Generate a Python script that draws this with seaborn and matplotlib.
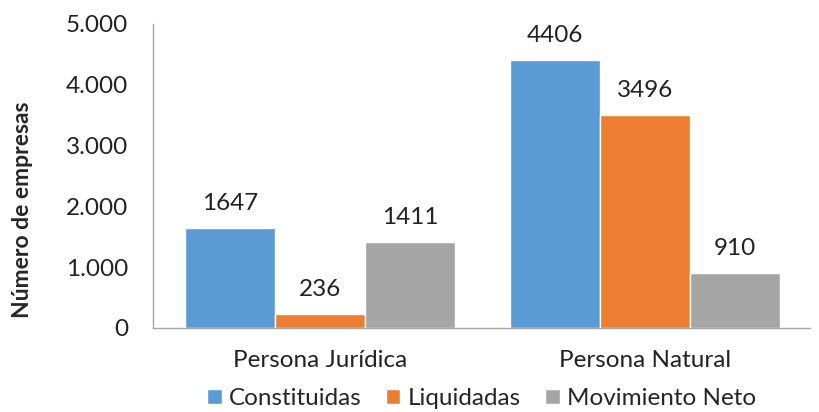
import matplotlib
matplotlib.use("Agg")
import matplotlib.pyplot as plt
import matplotlib.ticker as mticker
import pandas as pd
import seaborn as sns

categories = ["Persona Jurídica", "Persona Natural"]
series = ["Constituidas", "Liquidadas", "Movimiento Neto"]
constituidas = [1647, 4406]
liquidadas = [236, 3496]
movimiento_neto = [1411, 910]
colors = ["#5B9BD5", "#ED7D31", "#A5A5A5"]

sns.set_theme(style="white")
plt.rcParams["font.family"] = ["Lato", "DejaVu Sans"]

df = pd.DataFrame({
    "categoria": categories * 3,
    "serie": [s for s in series for _ in categories],
    "valor": constituidas + liquidadas + movimiento_neto,
})

fig, ax = plt.subplots(figsize=(8.19, 4.12), dpi=100)
sns.barplot(data=df, x="categoria", y="valor", hue="serie", hue_order=series,
            palette=colors, width=0.83, gap=0, saturation=1, ax=ax)

for cont in ax.containers:
    ax.bar_label(cont, fmt="%d", padding=10, fontsize=17.5, color="#222222")

ax.set_ylim(0, 5000)
ax.set_xlim(-0.514, 1.508)
ax.set_yticks(range(0, 5001, 1000))
ax.yaxis.set_major_formatter(mticker.FuncFormatter(lambda v, _: f"{int(v):,}".replace(",", ".")))
ax.tick_params(axis="y", length=0, labelsize=17.5, colors="#222222", pad=18)
ax.tick_params(axis="x", length=0, labelsize=17.5, colors="#222222", pad=16)
ax.set_xlabel("")
ax.set_ylabel("Número de empresas", fontsize=16.5, fontweight="bold")
ax.yaxis.set_label_coords(-0.183, 0.39)

for side in ["top", "right"]:
    ax.spines[side].set_visible(False)
for side in ["left", "bottom"]:
    ax.spines[side].set_color("#A6A6A6")
    ax.spines[side].set_linewidth(1)

ax.legend(loc="upper center", bbox_to_anchor=(0.5, -0.165), ncol=3, frameon=False,
          fontsize=17.5, handlelength=0.6, handleheight=0.6, handletextpad=0.3,
          columnspacing=1.0, borderaxespad=0)

fig.subplots_adjust(left=0.187, right=0.989, top=0.942, bottom=0.204)
fig.savefig("out.png", dpi=100)
plt.close(fig)
